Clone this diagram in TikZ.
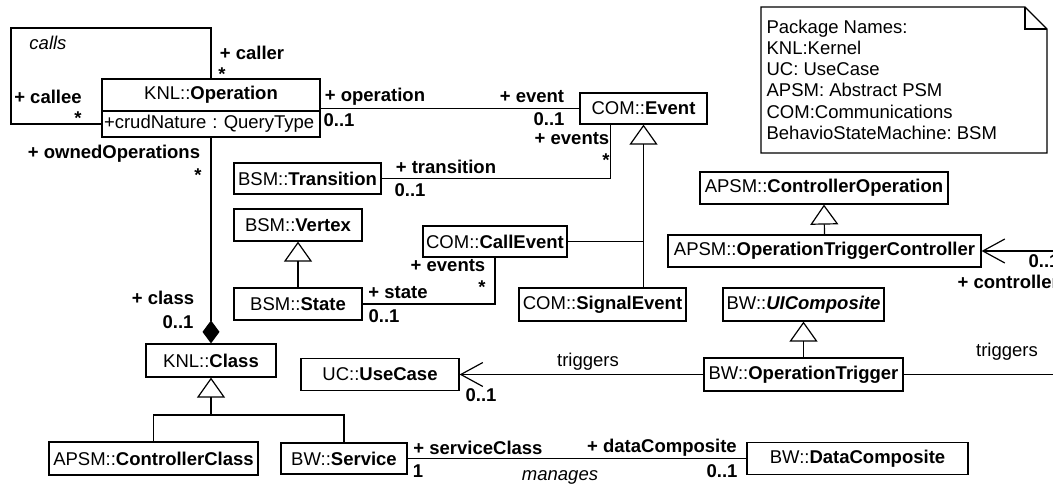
\documentclass[tikz,border=0pt]{standalone}
\usepackage{fontspec}
\setmainfont{Liberation Sans}
\usetikzlibrary{arrows.meta}
\newcommand{\diagsz}{\fontsize{18.5}{21.3}\selectfont}
\frenchspacing

\begin{document}
\begin{tikzpicture}[x=1pt, y=-1pt, line width=1.2pt, font=\diagsz,
    cls/.style={draw, inner sep=0pt, minimum height=32pt},
    role/.style={font=\diagsz\bfseries, inner sep=0pt},
    lbl/.style={inner sep=0pt},
    gen/.style={-{Triangle[open, length=20pt, width=28pt]}},
    nav/.style={-{Straight Barb[length=22pt, width=24pt]}},
    comp/.style={-{Diamond[length=23pt, width=17pt]}}]
        \useasboundingbox (0,0) rectangle (1053,487);
        \clip (0,0) rectangle (1053,487);
        \node[cls, minimum width=218pt] (opn) at (211,95) {KNL::\textbf{Operation}};
        \node[cls, minimum width=218pt, minimum height=26pt, text width=214pt, align=left] (opa) at (211,124) {+crudNature : QueryType};
        \node[cls, minimum width=127pt, minimum height=31pt] (evt) at (643.5,108.5) {COM::\textbf{Event}};
        \node[cls, minimum width=147pt, minimum height=31pt] (tr) at (307.5,178.5) {BSM::\textbf{Transition}};
        \node[cls, minimum width=128pt] (vx) at (298,225) {BSM::\textbf{Vertex}};
        \node[cls, minimum width=128pt] (st) at (298,304) {BSM::\textbf{State}};
        \node[cls, minimum width=144pt, minimum height=31pt] (ce) at (495,241.5) {COM::\textbf{CallEvent}};
        \node[cls, minimum width=167pt, minimum height=33pt] (se) at (602.5,304.5) {COM::\textbf{SignalEvent}};
        \node[cls, minimum width=130pt, minimum height=33pt] (cls) at (211,360.5) {KNL::\textbf{Class}};
        \node[cls, minimum width=209pt, minimum height=33pt] (cc) at (153.5,458.5) {APSM::\textbf{ControllerClass}};
        \node[cls, minimum width=126pt, minimum height=31pt] (svc) at (344,458.5) {BW::\textbf{Service}};
        \node[cls, minimum width=221pt] (dc) at (857.5,458.5) {BW::\textbf{DataComposite}};
        \node[cls, minimum width=158pt] (uc) at (380,374.5) {UC::\textbf{UseCase}};
        \node[cls, minimum width=199pt, minimum height=33pt] (ot) at (803.5,374.5) {BW::\textbf{OperationTrigger}};
        \node[cls, minimum width=161pt, minimum height=33pt] (uic) at (803.5,304.5) {BW::{\bfseries\itshape UIComposite}};
        \node[cls, minimum width=248pt] (co) at (824,188) {APSM::\textbf{ControllerOperation}};
        \node[cls, minimum width=313pt] (otc) at (824.5,251) {APSM::\textbf{OperationTriggerController}};

        \draw (761,7) -- (1025,7) -- (1047,29) -- (1047,153) -- (761,153) -- cycle;
        \draw (1025,7) |- (1047,29);
        \node[lbl, align=left, anchor=north west] (notetxt) at (766,19) {Package Names:\\KNL:Kernel\\UC: UseCase\\APSM: Abstract PSM\\COM:Communications\\BehavioStateMachine: BSM};

        \coordinate (cl) at (11,28);
        \coordinate (j1) at (211,415);
        \coordinate (ev1) at ([xshift=31pt]evt.south west);
        \coordinate (rc) at (1060,251);
        \coordinate (rt) at (1060,374.5);

        \draw (opn.north) |- (cl) |- (opa.west);
        \draw[comp] (opa.south) -- (cls.north);
        \draw (opn.east |- evt.west) -- (evt.west);
        \draw (tr.east) -| (ev1);
        \draw (st.east) -| (ce.south);
        \draw[gen] (st.north) -- (vx.south);
        \draw[gen] (se.north -| evt.south) -- (evt.south);
        \draw (ce.east) -- (ce.east -| evt.south);
        \draw[gen] (j1) -- (cls.south);
        \draw (cc.north) |- (j1) -| (svc.north);
        \draw (svc.east) -- (dc.west);
        \draw[nav] (ot.west) -- (uc.east);
        \draw (ot.east) -- (rt);
        \draw[gen] (ot.north) -- (uic.south);
        \draw[gen] (otc.north) -- (co.south);
        \draw[nav] (rc) -- (otc.east);

        \node[lbl, font=\diagsz\itshape] (lcalls) at (48,43) {calls};
        \node[role] (lcaller) at (252,53) {+ caller};
        \node[role] (lcallerm) at (222,74) {*};
        \node[role] (lcallee) at (48,97) {+ callee};
        \node[role] (lcalleem) at (78,118) {*};
        \node[role] (lowned) at (114,154) {+ ownedOperations};
        \node[role] (lownedm) at (198,175) {*};
        \node[role] (lclass) at (163,298) {+ class};
        \node[role] (lclassm) at (178,322) {0..1};
        \node[role] (loper) at (375,97) {+ operation};
        \node[role] (loperm) at (339,120) {0..1};
        \node[role] (levent) at (532,97) {+ event};
        \node[role] (leventm) at (549,119) {0..1};
        \node[role] (levents) at (572,139) {+ events};
        \node[role] (leventsm) at (606,160) {*};
        \node[role] (ltrans) at (446,167) {+ transition};
        \node[role] (ltransm) at (410,190) {0..1};
        \node[role] (lstate) at (398,293) {+ state};
        \node[role] (lstatem) at (384,316) {0..1};
        \node[role] (lcevents) at (448,266) {+ events};
        \node[role] (lceventsm) at (482,287) {*};
        \node[role, anchor=west] (lctrlm) at (1028,261) {0..1};
        \node[role, anchor=west] (lctrl) at (957,282) {+ controller};
        \node[lbl] (ltrig) at (588,362) {triggers};
        \node[role] (lucm) at (481,395) {0..1};
        \node[lbl] (ltrigb) at (1007,352) {triggers};
        \node[role] (lsvc) at (478,448) {+ serviceClass};
        \node[role] (lsvcm) at (418,471) {1};
        \node[role] (ldc) at (662,448) {+ dataComposite};
        \node[role] (ldcm) at (722,471) {0..1};
        \node[lbl, font=\diagsz\itshape] (lman) at (560,477) {manages};
\end{tikzpicture}
\end{document}
